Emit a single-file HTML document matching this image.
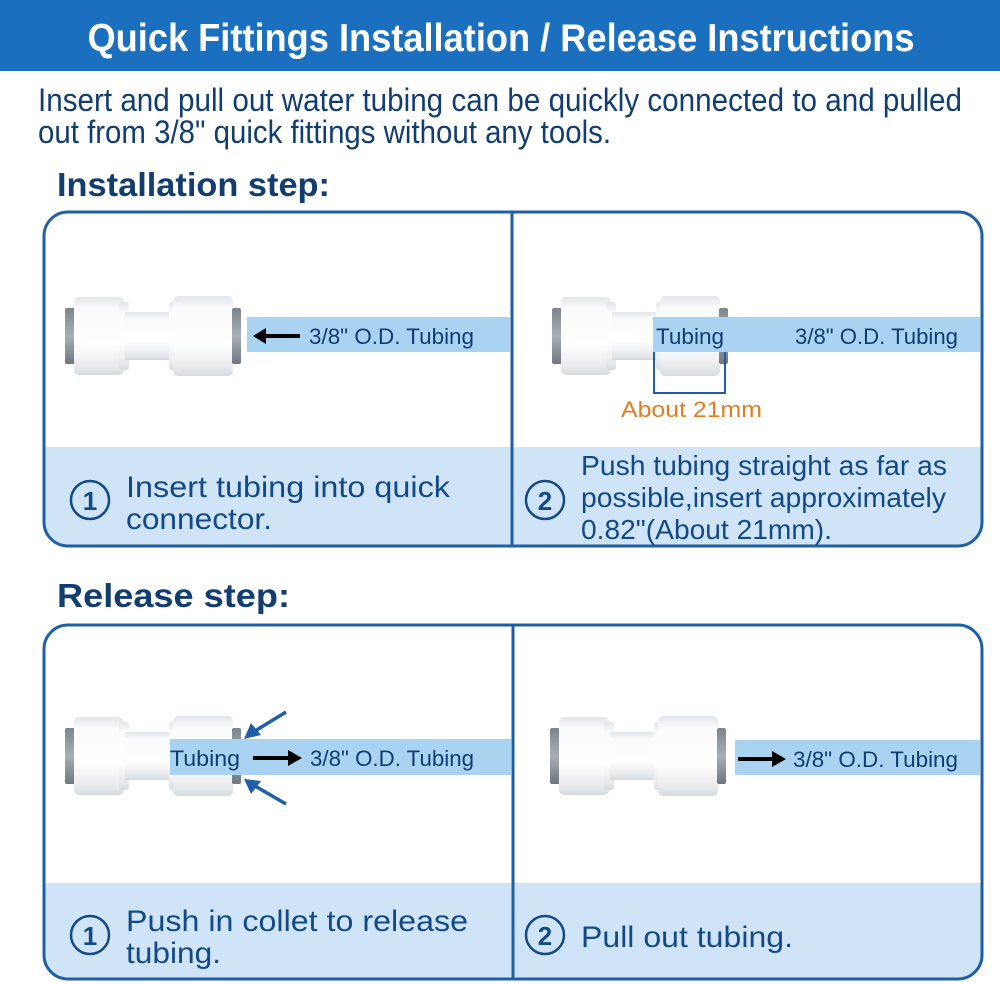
<!DOCTYPE html>
<html><head><meta charset="utf-8"><style>
html,body{margin:0;padding:0;background:#fff;}
svg{display:block;}
text{font-family:"Liberation Sans",sans-serif;}
</style></head><body>
<svg width="1000" height="984" viewBox="0 0 1000 984" xmlns="http://www.w3.org/2000/svg">
<defs>
<linearGradient id="wb" x1="0" y1="0" x2="0" y2="1">
<stop offset="0" stop-color="#e2e6ea"/><stop offset="0.15" stop-color="#fafbfc"/><stop offset="0.6" stop-color="#ffffff"/><stop offset="0.9" stop-color="#e6e9ec"/><stop offset="1" stop-color="#d6dade"/>
</linearGradient>
<linearGradient id="cap" x1="0" y1="0" x2="0" y2="1">
<stop offset="0" stop-color="#7d848b"/><stop offset="0.5" stop-color="#a8aeb4"/><stop offset="1" stop-color="#6f767d"/>
</linearGradient>
<symbol id="fit" viewBox="0 0 176 80" width="176" height="80" overflow="visible">
<rect x="0" y="12" width="10" height="56" rx="2" fill="url(#cap)"/>
<rect x="9" y="1" width="50" height="78" rx="5" fill="url(#wb)"/>
<rect x="54" y="6" width="10" height="68" rx="3" fill="url(#wb)"/>
<rect x="60" y="16" width="50" height="48" fill="url(#wb)"/>
<rect x="104" y="6" width="10" height="68" rx="3" fill="url(#wb)"/>
<rect x="108" y="0" width="60" height="80" rx="5" fill="url(#wb)"/>
<rect x="167" y="12" width="9" height="56" rx="2" fill="url(#cap)"/>
</symbol>
</defs>

<rect x="0" y="0" width="1000" height="71" fill="#1b6fbf"/>
<text x="501" y="51" font-size="39" font-weight="bold" fill="#fff" text-anchor="middle" textLength="827" lengthAdjust="spacingAndGlyphs">Quick Fittings Installation / Release Instructions</text>

<g fill="#123d70" font-size="32">
<text x="38" y="111" textLength="924" lengthAdjust="spacingAndGlyphs">Insert and pull out water tubing can be quickly connected to and pulled</text>
<text x="38" y="143" textLength="573" lengthAdjust="spacingAndGlyphs">out from 3/8" quick fittings without any tools.</text>
</g>
<text x="57" y="196" font-size="33" font-weight="bold" fill="#123d70" textLength="273" lengthAdjust="spacingAndGlyphs">Installation step:</text>
<text x="57" y="607" font-size="33" font-weight="bold" fill="#123d70" textLength="233" lengthAdjust="spacingAndGlyphs">Release step:</text>

<clipPath id="c1"><rect x="44" y="212" width="938" height="334" rx="24"/></clipPath>
<g clip-path="url(#c1)">
<rect x="44" y="212" width="938" height="334" fill="#fff"/>
<rect x="44" y="447" width="938" height="100" fill="#cfe4f7"/>
</g>
<rect x="44" y="212" width="938" height="334" rx="24" fill="none" stroke="#1f5fa5" stroke-width="3"/>
<line x1="512" y1="212" x2="512" y2="546" stroke="#1f5fa5" stroke-width="3"/>

<clipPath id="c2"><rect x="44" y="625" width="938" height="354" rx="24"/></clipPath>
<g clip-path="url(#c2)">
<rect x="44" y="625" width="938" height="354" fill="#fff"/>
<rect x="44" y="883" width="938" height="96" fill="#cfe4f7"/>
</g>
<rect x="44" y="625" width="938" height="354" rx="24" fill="none" stroke="#1f5fa5" stroke-width="3"/>
<line x1="513" y1="625" x2="513" y2="979" stroke="#1f5fa5" stroke-width="3"/>

<use href="#fit" x="65" y="296"/>
<rect x="247" y="317" width="263" height="35" fill="#a9d3f0"/>
<line x1="300" y1="336" x2="262" y2="336" stroke="#000" stroke-width="4"/>
<path d="M253,336 L266,328 L266,344 z" fill="#000"/>
<text x="309" y="344" font-size="22" fill="#123d70" textLength="165" lengthAdjust="spacingAndGlyphs">3/8" O.D. Tubing</text>

<use href="#fit" x="552" y="296"/>
<rect x="653" y="317" width="327" height="35" fill="#a9d3f0"/>
<text x="656" y="344" font-size="22" fill="#123d70" textLength="68" lengthAdjust="spacingAndGlyphs">Tubing</text>
<text x="795" y="344" font-size="22" fill="#123d70" textLength="163" lengthAdjust="spacingAndGlyphs">3/8" O.D. Tubing</text>
<path d="M654,352 V393 H725 V352" fill="none" stroke="#1f5fa5" stroke-width="2"/>
<text x="621" y="417" font-size="22" fill="#e07d1f" textLength="141" lengthAdjust="spacingAndGlyphs">About 21mm</text>

<g fill="none" stroke="#134a85" stroke-width="2.5">
<circle cx="90" cy="500" r="19"/><circle cx="545" cy="500" r="19"/>
<circle cx="90" cy="935" r="19"/><circle cx="545" cy="935" r="19"/>
</g>
<g fill="#134a85" font-size="26" font-weight="bold" text-anchor="middle">
<text x="90" y="510">1</text><text x="545" y="510">2</text>
<text x="90" y="945">1</text><text x="545" y="945">2</text>
</g>
<g fill="#134a85" font-size="30">
<text x="126" y="497" textLength="324" lengthAdjust="spacingAndGlyphs">Insert tubing into quick</text>
<text x="126" y="529" textLength="146" lengthAdjust="spacingAndGlyphs">connector.</text>
<text x="126" y="931" textLength="342" lengthAdjust="spacingAndGlyphs">Push in collet to release</text>
<text x="126" y="963" textLength="95" lengthAdjust="spacingAndGlyphs">tubing.</text>
<text x="581" y="947" textLength="212" lengthAdjust="spacingAndGlyphs">Pull out tubing.</text>
</g>
<g fill="#134a85" font-size="28">
<text x="581" y="475" textLength="366" lengthAdjust="spacingAndGlyphs">Push tubing straight as far as</text>
<text x="581" y="507" textLength="365" lengthAdjust="spacingAndGlyphs">possible,insert approximately</text>
<text x="581" y="539" textLength="251" lengthAdjust="spacingAndGlyphs">0.82"(About 21mm).</text>
</g>

<use href="#fit" x="65" y="716"/>
<rect x="170" y="739" width="341" height="36" fill="#a9d3f0"/>
<text x="170" y="766" font-size="22" fill="#123d70" textLength="70" lengthAdjust="spacingAndGlyphs">Tubing</text>
<line x1="253" y1="758" x2="290" y2="758" stroke="#000" stroke-width="4"/>
<path d="M302,758 L288,750 L288,766 z" fill="#000"/>
<text x="310" y="766" font-size="22" fill="#123d70" textLength="164" lengthAdjust="spacingAndGlyphs">3/8" O.D. Tubing</text>
<line x1="286" y1="712" x2="255" y2="731" stroke="#1f5fa5" stroke-width="3.5"/>
<path d="M244,739 L251,723 L261,735 z" fill="#1f5fa5"/>
<line x1="286" y1="804" x2="255" y2="786" stroke="#1f5fa5" stroke-width="3.5"/>
<path d="M244,779 L261,781 L251,794 z" fill="#1f5fa5"/>

<use href="#fit" x="550" y="716"/>
<rect x="735" y="740" width="245" height="35" fill="#a9d3f0"/>
<line x1="738" y1="759" x2="774" y2="759" stroke="#000" stroke-width="4"/>
<path d="M786,759 L772,751 L772,767 z" fill="#000"/>
<text x="793" y="767" font-size="22" fill="#123d70" textLength="165" lengthAdjust="spacingAndGlyphs">3/8" O.D. Tubing</text>
</svg>
</body></html>
